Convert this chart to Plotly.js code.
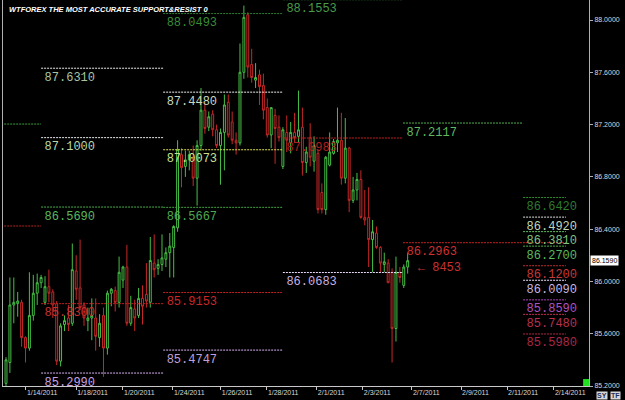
<!DOCTYPE html>
<html>
<head>
<meta charset="utf-8">
<script src="https://cdn.plot.ly/plotly-3.0.1.min.js"></script>
<style>html,body{margin:0;padding:0;background:#000;}#chart{width:625px;height:400px;}</style>
</head>
<body>
<div id="chart"></div>
<script>
// ---- candle data (4-hour candles, index = candle number) ----
const opens  = [85.22,85.38,85.82,85.83,85.84,85.57,85.49,85.74,85.91,85.99,85.84,85.96,85.92,85.83,85.39,85.67,85.72,85.68,86.08,85.95,85.82,85.70,85.72,85.72,85.57,85.74,85.49,85.91,85.93,85.84,86.01,86.11,85.68,85.79,85.74,85.87,85.90,85.84,86.14,86.10,86.13,86.17,86.22,86.26,86.41,86.97,86.88,86.93,86.95,86.79,87.04,87.31,87.18,87.28,87.16,87.04,87.14,87.37,87.22,87.08,87.06,87.60,88.04,87.66,87.54,87.58,87.50,87.33,87.12,87.27,87.18,86.88,87.14,87.06,87.14,87.11,87.18,86.91,87.10,86.92,86.98,86.68,86.55,86.89,86.98,87.06,87.08,86.79,87.02,86.62,86.70,86.78,86.49,86.49,86.32,86.37,86.26,86.13,86.14,86.07,85.64,86.07,85.97,86.11];
const highs  = [85.42,86.03,86.03,85.92,85.86,85.58,86.07,86.05,86.06,86.05,86.04,86.09,85.94,85.85,85.68,85.74,85.82,86.29,86.20,86.32,85.84,85.80,85.87,85.87,85.75,85.80,85.93,85.95,85.96,86.19,86.12,86.28,85.89,85.86,85.95,85.97,86.14,86.34,86.36,86.17,86.36,86.26,86.37,86.43,87.08,87.02,87.00,87.00,87.04,87.08,87.48,87.37,87.30,87.31,87.20,87.17,87.43,87.43,87.30,87.14,87.82,88.11,88.06,87.78,87.67,87.62,87.59,87.40,87.33,87.32,87.27,87.18,87.27,87.22,87.29,87.46,87.33,87.03,87.21,87.11,87.01,86.75,86.96,87.14,87.09,87.33,87.29,87.25,87.03,86.80,86.83,86.85,86.70,86.72,86.47,86.42,86.27,86.22,86.17,86.10,86.19,86.11,86.13,86.22];
const lows   = [85.19,85.30,85.68,85.73,85.50,85.38,85.47,85.70,85.82,85.95,85.82,85.84,85.72,85.36,85.35,85.62,85.62,85.66,85.86,85.78,85.66,85.62,85.55,85.47,85.50,85.27,85.44,85.81,85.77,85.80,85.95,85.66,85.66,85.62,85.72,85.67,85.80,85.80,86.03,86.05,86.08,86.11,86.03,86.03,86.38,86.72,86.80,86.85,86.73,86.58,87.00,87.13,87.15,87.11,87.02,86.74,86.85,87.10,87.05,86.97,87.04,87.55,87.56,87.52,87.48,87.35,87.24,87.10,87.02,86.90,87.07,86.86,86.99,86.98,87.06,87.06,86.81,86.83,86.88,86.84,86.52,86.52,86.51,86.88,86.97,86.99,86.74,86.75,86.53,86.60,86.62,86.48,86.43,86.11,86.07,86.25,86.07,86.07,85.99,85.38,85.54,85.99,85.95,86.06];
const closes = [85.40,85.82,85.84,85.85,85.57,85.49,85.74,85.91,85.99,86.03,85.96,85.91,85.82,85.39,85.66,85.70,85.67,86.09,85.94,85.80,85.72,85.72,85.74,85.58,85.68,85.49,85.91,85.94,85.84,86.07,86.11,85.68,85.80,85.72,85.87,85.81,85.85,86.16,86.09,86.13,86.18,86.22,86.27,86.42,87.01,86.87,86.93,86.97,86.79,87.04,87.31,87.17,87.26,87.16,87.04,87.14,87.35,87.12,87.08,87.06,87.60,88.02,87.64,87.56,87.56,87.49,87.31,87.12,87.33,87.17,87.10,87.16,87.08,87.14,87.10,87.16,86.91,86.99,86.95,87.04,86.55,86.55,86.95,86.99,87.07,87.08,86.79,87.02,86.62,86.70,86.78,86.49,86.47,86.32,86.38,86.26,86.14,86.15,85.99,85.64,86.07,86.03,86.11,86.159];
const candleIndex = opens.map((_, i) => i);

// ---- date axis ----
const tickVals = [5.1, 18.0, 30.0, 42.8, 55.1, 66.9, 79.7, 91.5, 104.1, 116.7, 128.5, 140.5];
const tickText = ['1/14/2011','1/18/2011','1/20/2011','1/24/2011','1/26/2011','1/28/2011','2/1/2011','2/3/2011','2/7/2011','2/9/2011','2/11/2011','2/14/2011'];
const priceTicks = [85.2, 85.6, 86.0, 86.4, 86.8, 87.2, 87.6, 88.0];
const lastPrice = 86.1590;

// ---- support / resistance levels ----
const levelValues = [87.204, 86.424,
  87.6310, 87.1000, 86.5690, 85.8300, 85.2990,
  88.0493, 87.4480, 87.0073, 86.5667, 85.9153, 85.4747,
  88.1553, 87.0970, 86.0683,
  87.2117, 86.2963,
  86.6420, 86.4920, 86.3810, 86.2700, 86.1200, 86.0090, 85.8590, 85.7480, 85.5980];
const levelLabels = ['', '',
  '87.6310','87.1000','86.5690','85.8300','85.2990',
  '88.0493','87.4480','87.0073','86.5667','85.9153','85.4747',
  '88.1553','87.0983','86.0683',
  '87.2117','86.2963',
  '86.6420','86.4920','86.3810','86.2700','86.1200','86.0090','85.8590','85.7480','85.5980'];
const levelStart = [-2,-2, 9.0,9.0,9.0,9.0,9.0, 40.3,40.3,40.3,40.3,40.3,40.3, 71.0,71.0,71.0, 101.8,101.8, 132.6,132.6,132.6,132.6,132.6,132.6,132.6,132.6,132.6];
const levelEnd   = [9.0,9.0, 40.3,40.3,40.3,40.3,40.3, 71.0,71.0,71.0,71.0,71.0,71.0, 101.8,101.8,101.8, 132.6,143.6, 143.6,143.6,143.6,143.6,143.6,143.6,143.6,143.6,143.6];
const arrowNote = {x: 105.6, y: 86.10, text: '\u2190 8453'};

// ---- styles ----
const lineColors = ['#3c9c3c','#b02020',
  '#e8e8e8','#e8e8e8','#4caf4c','#c02020','#d8b0f0',
  '#2e7d32','#f0f0f0','#e0e050','#40a040','#c02020','#d8b0f0',
  '#3c8c3c','#c02020','#e8d8f8',
  '#50b050','#c02020',
  '#2e8b2e','#e0e0e0','#60c060','#50b050','#c03030','#f0e0ff','#b040c0','#c03050','#b02848'];
const textColors = ['#3c9c3c','#b02020',
  '#a8c4a0','#b8d8a8','#5cb85c','#c83030','#c8a0e0',
  '#3a8a3a','#c8d8c0','#c8e090','#50a850','#c82828','#c0a0d8',
  '#4a9a4a','#b02020','#c8b0e0',
  '#60b860','#d03030',
  '#2f7a2f','#c0d8b8','#80c080','#5cb85c','#c83838','#c8b8e0','#b050c0','#b83050','#a82848'];

const traces = [];
levelValues.forEach((v, k) => {
  traces.push({
    type: 'scatter', mode: 'lines',
    x: [levelStart[k], levelEnd[k]], y: [v, v],
    line: {color: lineColors[k], width: 1, dash: '2px,1px'},
    hoverinfo: 'skip', showlegend: false
  });
  if (levelLabels[k]) {
    traces.push({
      type: 'scatter', mode: 'markers+text',
      x: [levelStart[k]], y: [v], text: [levelLabels[k]],
      marker: {size: 4, color: 'rgba(0,0,0,0)'},
      textposition: 'bottom right',
      textfont: {family: 'Liberation Mono, DejaVu Sans Mono, monospace', size: 12, color: textColors[k]},
      hoverinfo: 'skip', showlegend: false
    });
  }
});
traces.push({
  type: 'scatter', mode: 'text',
  x: [arrowNote.x], y: [arrowNote.y], text: [arrowNote.text],
  textposition: 'middle right',
  textfont: {family: 'Liberation Mono, DejaVu Sans Mono, monospace', size: 12, color: '#c83030'},
  hoverinfo: 'skip', showlegend: false
});
traces.push({
  type: 'candlestick',
  x: candleIndex, open: opens, high: highs, low: lows, close: closes,
  increasing: {line: {color: '#46bf46', width: 1}, fillcolor: '#000000'},
  decreasing: {line: {color: '#c62828', width: 1}, fillcolor: '#000000'},
  whiskerwidth: 0,
  hoverinfo: 'skip', showlegend: false
});

const layout = {
  width: 625, height: 400,
  paper_bgcolor: '#000000', plot_bgcolor: '#000000',
  margin: {l: 3, r: 36, t: 0, b: 14},
  showlegend: false,
  xaxis: {
    range: [-0.77, 149.5], rangeslider: {visible: false},
    tickvals: tickVals, ticktext: tickText,
    showgrid: false, zeroline: false,
    showline: true, linecolor: '#c8c8c8', linewidth: 1,
    ticks: 'outside', ticklen: 3, tickcolor: '#c8c8c8',
    ticklabelposition: 'outside right',
    tickfont: {family: 'Liberation Sans, Arial, sans-serif', size: 7, color: '#d8d8d8'},
    fixedrange: true
  },
  yaxis: {
    range: [85.2, 88.153], side: 'right',
    tickvals: priceTicks, tickformat: '.4f',
    showgrid: false, zeroline: false,
    showline: true, mirror: true, linecolor: '#b0b0b0', linewidth: 1,
    ticks: 'outside', ticklen: 3, tickcolor: '#b0b0b0',
    tickfont: {family: 'Liberation Sans, Arial, sans-serif', size: 7, color: '#d8d8d8'},
    fixedrange: true
  },
  annotations: [
    {xref: 'paper', yref: 'paper', x: 0.007, y: 1, xanchor: 'left', yanchor: 'top', yshift: -3,
     text: '<b><i>WTFOREX THE MOST ACCURATE SUPPORT&amp;RESIST 0</i></b>', showarrow: false,
     font: {family: 'Liberation Sans, Arial, sans-serif', size: 7.5, color: '#ffffff'}},
    {xref: 'paper', yref: 'y', x: 1, y: lastPrice, xanchor: 'left', yanchor: 'middle', xshift: 1,
     text: lastPrice.toFixed(4), showarrow: false, bgcolor: '#ffffff', borderpad: 1,
     font: {family: 'Liberation Sans, Arial, sans-serif', size: 7, color: '#000000'}},
    {xref: 'paper', yref: 'paper', x: 1.012, y: -0.012, xanchor: 'left', yanchor: 'top',
     text: '<b>SY</b>', showarrow: false, bgcolor: '#d8d8d8', borderpad: 0,
     font: {family: 'Liberation Sans, Arial, sans-serif', size: 7, color: '#203060'}},
    {xref: 'paper', yref: 'paper', x: 1.035, y: -0.012, xanchor: 'left', yanchor: 'top',
     text: '<b>TF</b>', showarrow: false, bgcolor: '#d8d8d8', borderpad: 0,
     font: {family: 'Liberation Sans, Arial, sans-serif', size: 7, color: '#203060'}}
  ],
  shapes: [
    {type: 'rect', xref: 'paper', yref: 'paper', x0: 0.99, x1: 1.0, y0: 0, y1: 0.018,
     fillcolor: '#20e020', line: {width: 0}}
  ]
};

Plotly.newPlot('chart', traces, layout, {staticPlot: true, displayModeBar: false});
</script>
</body>
</html>
